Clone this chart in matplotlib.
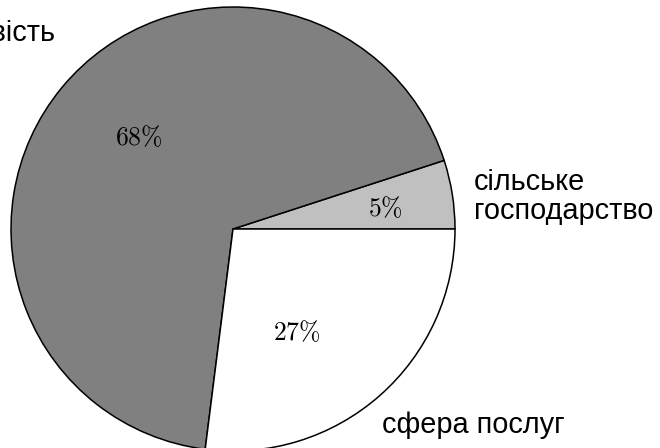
import matplotlib
matplotlib.use("Agg")
import matplotlib.pyplot as plt
import numpy as np

categories = ["сільське\nгосподарство", "промисловість", "сфера послуг"]
shares = [5, 68, 27]
colors = ["#c0c0c0", "#808080", "#ffffff"]
pct_labels = [r"$5\%$", r"$68\%$", r"$27\%$"]

# label placement (radius fraction, angle in degrees) for the percentage labels
pct_pos = [(0.692, 7.9), (0.592, 135.6), (0.546, -58.2)]

plt.rcParams['font.family'] = ['Liberation Sans', 'DejaVu Sans']

fig = plt.figure(figsize=(6.6, 4.48), dpi=100)
ax = fig.add_axes([0, 0, 1, 1])

wedges, _ = ax.pie(shares, colors=colors, startangle=0, counterclock=True,
                   radius=1.0, center=(0, 0),
                   wedgeprops=dict(edgecolor="black", linewidth=1.1))

for lab, (r, a) in zip(pct_labels, pct_pos):
    t = np.deg2rad(a)
    ax.text(r * np.cos(t), r * np.sin(t), lab, ha="center", va="center",
            fontsize=18.5, math_fontfamily="cm")

ax.text(1.086, 0.147, categories[0], ha="left", va="center", fontsize=20.8,
        linespacing=1.02)
ax.text(-0.80, 0.885, categories[1], ha="right", va="center", fontsize=20.8)
ax.text(0.672, -0.885, categories[2], ha="left", va="center", fontsize=20.8)

ax.set_xlim(-233 / 222, (660 - 233) / 222)
ax.set_ylim(-(448 - 229) / 222, 229 / 222)
ax.set_aspect("equal")
ax.axis("off")

fig.savefig("out.png", dpi=100)
